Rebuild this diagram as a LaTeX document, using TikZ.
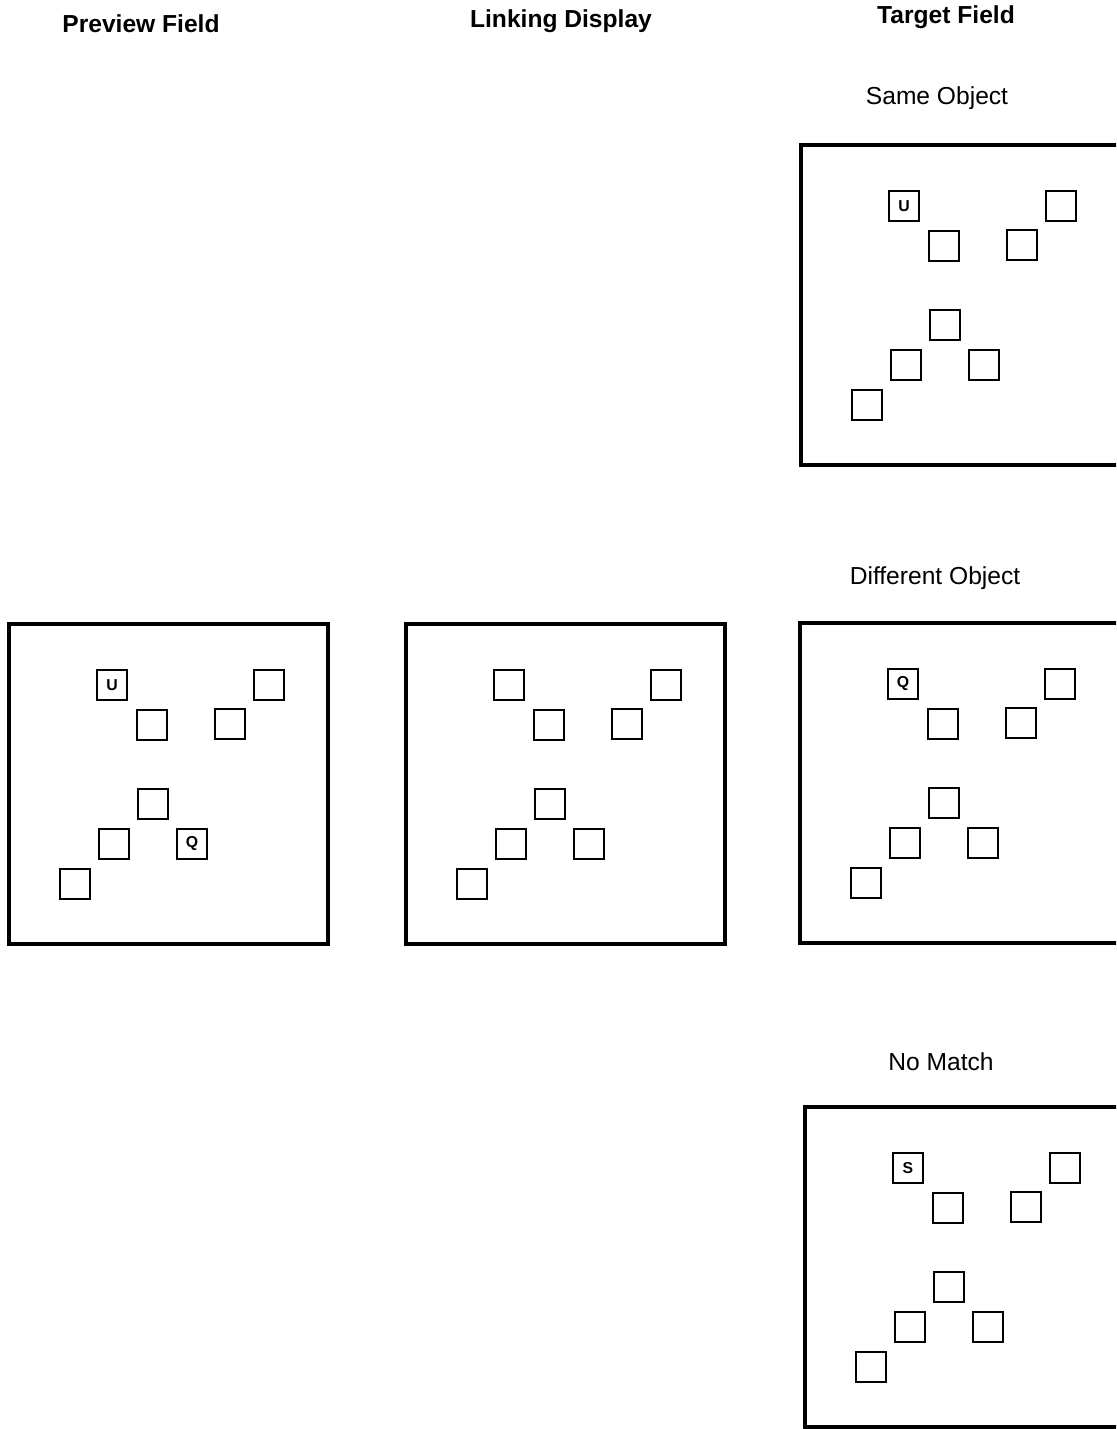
\documentclass[tikz,border=0pt]{standalone}
\usepackage{fontspec}
\setmainfont{Liberation Sans}
\begin{document}
\begin{tikzpicture}[x=0.02cm, y=-0.02cm,
        fieldbox/.style={line width=1.8pt},
        item/.style={draw, line width=1.1pt, minimum size=0.6cm, inner sep=0pt},
        letter/.style={font=\bfseries\fontsize{9}{10}\selectfont, inner sep=0pt},
        heading/.style={font=\bfseries\fontsize{14}{16}\selectfont},
        caption/.style={font=\fontsize{14}{16}\selectfont}]
        \useasboundingbox (0,0) rectangle (1116,1429);
        \clip (0,0) rectangle (1116,1429);

        % Headings
        \node[heading] (preview) at (141,24) {Preview Field};
        \node[heading] (linking) at (561,21) {Linking Display};
        \node[heading] (target) at (946,17) {Target Field};
        \node[caption] (same) at (937,98) {Same Object};
        \node[caption] (diff) at (935,578) {Different Object};
        \node[caption] (nomatch) at (941,1062) {No Match};

        % Fields
        \foreach \fld/\ox/\oy in {pv/9/624, ld/406/624, so/801/145, do/800/623, nm/805/1107} {
            \draw[fieldbox] (\ox,\oy) rectangle ++(319,320);
            \foreach \i/\dx/\dy in {1/103/61, 2/260/61, 3/143/101, 4/221/100,
                                    5/144/180, 6/105/220, 7/183/220, 8/66/260}
                \node[item] (\fld\i) at (\ox+\dx,\oy+\dy) {};
        }

        % Letters
        \node[letter] (pvU) at (pv1) {U};
        \node[letter] (pvQ) at (pv7) {Q};
        \node[letter] (soU) at (so1) {U};
        \node[letter] (doQ) at (do1) {Q};
        \node[letter] (nmS) at (nm1) {S};
\end{tikzpicture}
\end{document}
